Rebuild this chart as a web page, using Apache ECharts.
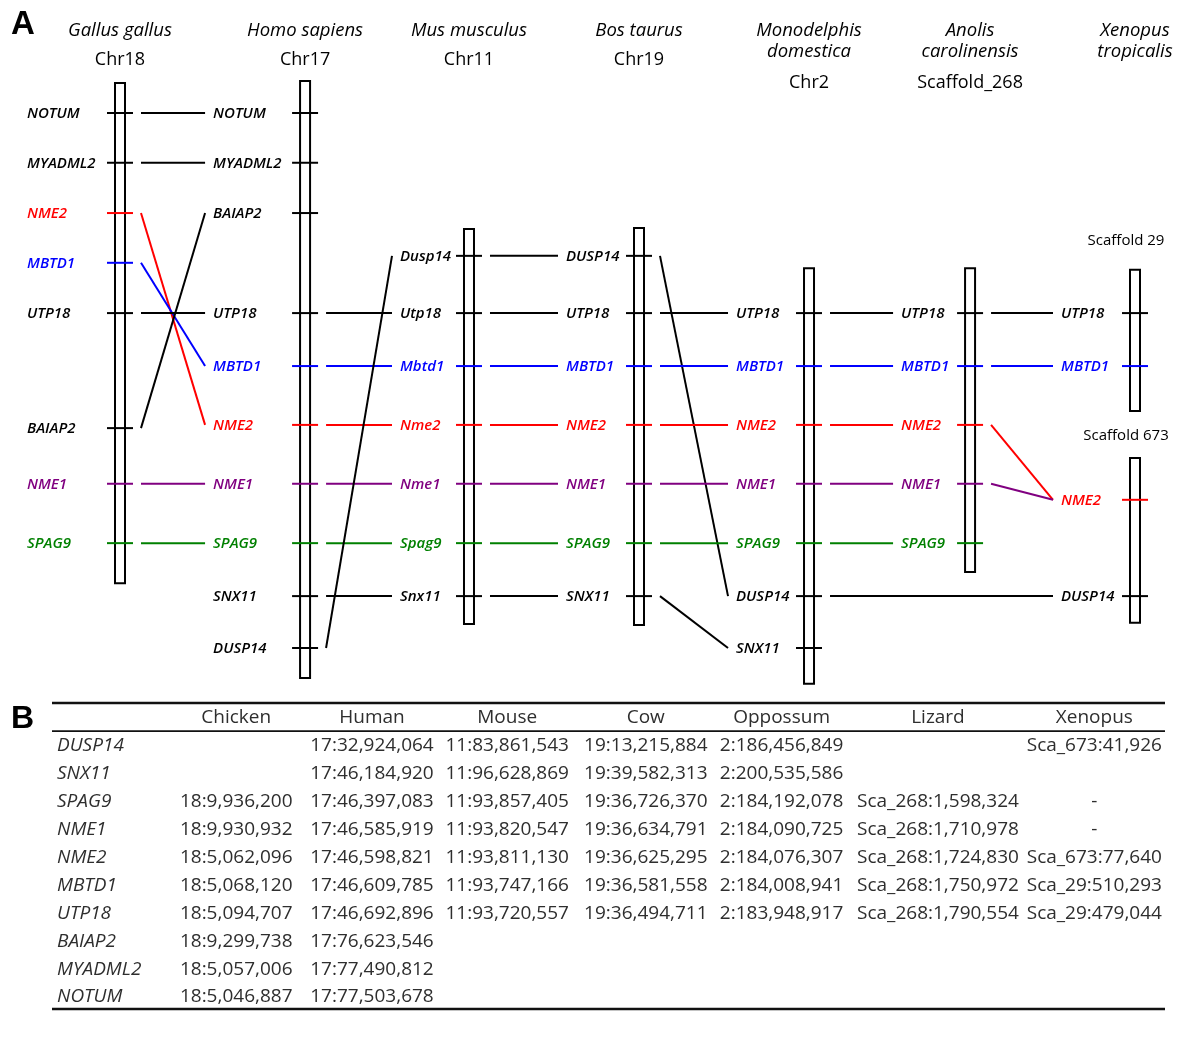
<!DOCTYPE html>
<html><head><meta charset="utf-8">
<script src="https://cdn.jsdelivr.net/npm/echarts@6/dist/echarts.min.js"></script>
<style>html,body{margin:0;padding:0;background:#fff}#c{width:1200px;height:1041px}</style>
</head><body><div id="c"></div>
<script>
// ================= DATA =================
// Panel A: species headers
const speciesNames = ['Gallus gallus', 'Homo sapiens', 'Mus musculus', 'Bos taurus', 'Monodelphis\ndomestica', 'Anolis\ncarolinensis', 'Xenopus\ntropicalis'];
const speciesChrom = ['Chr18', 'Chr17', 'Chr11', 'Chr19', 'Chr2', 'Scaffold_268', ''];

// Chromosomes / scaffolds drawn (schematic map units, 0 = top gene row)
const chromSpecies = [0, 1, 2, 3, 4, 5, 6, 6];
const chromLabel = ['', '', '', '', '', '', 'Scaffold 29', 'Scaffold 673'];
const chromLabelTrack = [null, null, null, null, null, null, 2.38, 6.04];
const chromStart = [-0.56, -0.60, 2.17, 2.15, 2.90, 2.90, 2.93, 6.45];
const chromEnd = [8.79, 10.56, 9.55, 9.57, 10.67, 8.58, 5.57, 9.53];

const chickenGenes = ['NOTUM', 'MYADML2', 'NME2', 'MBTD1', 'UTP18', 'BAIAP2', 'NME1', 'SPAG9'];
const chickenTrack = [0, 0.93, 1.87, 2.80, 3.74, 5.89, 6.93, 8.04];
const humanGenes = ['NOTUM', 'MYADML2', 'BAIAP2', 'UTP18', 'MBTD1', 'NME2', 'NME1', 'SPAG9', 'SNX11', 'DUSP14'];
const humanTrack = [0, 0.93, 1.87, 3.74, 4.73, 5.83, 6.93, 8.04, 9.03, 10.0];
const mouseGenes = ['Dusp14', 'Utp18', 'Mbtd1', 'Nme2', 'Nme1', 'Spag9', 'Snx11'];
const mouseTrack = [2.67, 3.74, 4.73, 5.83, 6.93, 8.04, 9.03];
const cowGenes = ['DUSP14', 'UTP18', 'MBTD1', 'NME2', 'NME1', 'SPAG9', 'SNX11'];
const cowTrack = [2.67, 3.74, 4.73, 5.83, 6.93, 8.04, 9.03];
const opossumGenes = ['UTP18', 'MBTD1', 'NME2', 'NME1', 'SPAG9', 'DUSP14', 'SNX11'];
const opossumTrack = [3.74, 4.73, 5.83, 6.93, 8.04, 9.03, 10.0];
const lizardGenes = ['UTP18', 'MBTD1', 'NME2', 'NME1', 'SPAG9'];
const lizardTrack = [3.74, 4.73, 5.83, 6.93, 8.04];
const xenScaf29Genes = ['UTP18', 'MBTD1'];
const xenScaf29Track = [3.74, 4.73];
const xenScaf673Genes = ['NME2', 'DUSP14'];
const xenScaf673Track = [7.23, 9.03];

// Orthology links: [fromChrom, fromGene, toChrom, toGene]
const links = [
  [0,'NOTUM',1,'NOTUM'],[0,'MYADML2',1,'MYADML2'],[0,'NME2',1,'NME2'],[0,'MBTD1',1,'MBTD1'],
  [0,'UTP18',1,'UTP18'],[0,'BAIAP2',1,'BAIAP2'],[0,'NME1',1,'NME1'],[0,'SPAG9',1,'SPAG9'],
  [1,'UTP18',2,'Utp18'],[1,'MBTD1',2,'Mbtd1'],[1,'NME2',2,'Nme2'],[1,'NME1',2,'Nme1'],
  [1,'SPAG9',2,'Spag9'],[1,'SNX11',2,'Snx11'],[1,'DUSP14',2,'Dusp14'],
  [2,'Dusp14',3,'DUSP14'],[2,'Utp18',3,'UTP18'],[2,'Mbtd1',3,'MBTD1'],[2,'Nme2',3,'NME2'],
  [2,'Nme1',3,'NME1'],[2,'Spag9',3,'SPAG9'],[2,'Snx11',3,'SNX11'],
  [3,'DUSP14',4,'DUSP14'],[3,'UTP18',4,'UTP18'],[3,'MBTD1',4,'MBTD1'],[3,'NME2',4,'NME2'],
  [3,'NME1',4,'NME1'],[3,'SPAG9',4,'SPAG9'],[3,'SNX11',4,'SNX11'],
  [4,'UTP18',5,'UTP18'],[4,'MBTD1',5,'MBTD1'],[4,'NME2',5,'NME2'],[4,'NME1',5,'NME1'],[4,'SPAG9',5,'SPAG9'],
  [4,'DUSP14',7,'DUSP14'],
  [5,'UTP18',6,'UTP18'],[5,'MBTD1',6,'MBTD1'],[5,'NME2',7,'NME2'],[5,'NME1',7,'NME2']
];

// Panel B: table
const tableHeaders = ['Chicken', 'Human', 'Mouse', 'Cow', 'Oppossum', 'Lizard', 'Xenopus'];
const tableGenes = ['DUSP14', 'SNX11', 'SPAG9', 'NME1', 'NME2', 'MBTD1', 'UTP18', 'BAIAP2', 'MYADML2', 'NOTUM'];
const chickenPos = ['', '', '18:9,936,200', '18:9,930,932', '18:5,062,096', '18:5,068,120', '18:5,094,707', '18:9,299,738', '18:5,057,006', '18:5,046,887'];
const humanPos = ['17:32,924,064', '17:46,184,920', '17:46,397,083', '17:46,585,919', '17:46,598,821', '17:46,609,785', '17:46,692,896', '17:76,623,546', '17:77,490,812', '17:77,503,678'];
const mousePos = ['11:83,861,543', '11:96,628,869', '11:93,857,405', '11:93,820,547', '11:93,811,130', '11:93,747,166', '11:93,720,557', '', '', ''];
const cowPos = ['19:13,215,884', '19:39,582,313', '19:36,726,370', '19:36,634,791', '19:36,625,295', '19:36,581,558', '19:36,494,711', '', '', ''];
const opossumPos = ['2:186,456,849', '2:200,535,586', '2:184,192,078', '2:184,090,725', '2:184,076,307', '2:184,008,941', '2:183,948,917', '', '', ''];
const lizardPos = ['', '', 'Sca_268:1,598,324', 'Sca_268:1,710,978', 'Sca_268:1,724,830', 'Sca_268:1,750,972', 'Sca_268:1,790,554', '', '', ''];
const xenopusPos = ['Sca_673:41,926', '', '-', '-', 'Sca_673:77,640', 'Sca_29:510,293', 'Sca_29:479,044', '', '', ''];

// ================= LAYOUT / STYLE =================
const COL_X = [0, 1.094, 2.063, 3.068, 4.073, 5.025, 6];         // species column positions (axis units)
const LABEL_DX = [-93, -92, -69, -73, -73, -69, -74, -74];        // gene label left offset per chromosome (px)
const TABLE_COL_X = [0.1655, 0.2875, 0.409, 0.5335, 0.6555, 0.796, 0.9365]; // table column centres (fraction)
const TABLE_NAME_X = 0.0045;
const TABLE_RULES = [-0.54, 0.47, 10.43];
const TABLE_RULE_W = [2.5, 1.8, 2.5];
const FONT = '"Open Sans", "DejaVu Sans", sans-serif';
const GENE_COLORS = { NME2: '#ff0000', MBTD1: '#0000ff', NME1: '#800080', SPAG9: '#008000' };
function geneColor(g) { return GENE_COLORS[g.toUpperCase()] || '#000000'; }

const chromGenes = [chickenGenes, humanGenes, mouseGenes, cowGenes, opossumGenes, lizardGenes, xenScaf29Genes, xenScaf673Genes];
const chromTracks = [chickenTrack, humanTrack, mouseTrack, cowTrack, opossumTrack, lizardTrack, xenScaf29Track, xenScaf673Track];
function chromX(i) { return COL_X[chromSpecies[i]]; }
function geneTrack(ci, g) { return chromTracks[ci][chromGenes[ci].indexOf(g)]; }

// ================= RENDERERS =================
function renderHeader(params, api) {
  const i = params.dataIndex;
  const x = api.coord([COL_X[i], 0])[0];
  const lines = speciesNames[i].split('\n');
  const ch = [];
  lines.forEach((t, k) => ch.push({ type: 'text', style: { text: t, x: x, y: 31 + k * 21, align: 'center', verticalAlign: 'middle', fill: '#000', font: 'italic 500 18.5px ' + FONT } }));
  if (speciesChrom[i]) ch.push({ type: 'text', style: { text: speciesChrom[i], x: x, y: lines.length > 1 ? 83 : 60, align: 'center', verticalAlign: 'middle', fill: '#000', font: '500 18px ' + FONT } });
  return { type: 'group', children: ch };
}

function renderChrom(params, api) {
  const i = params.dataIndex;
  const top = api.coord([chromX(i), chromStart[i]]);
  const bot = api.coord([chromX(i), chromEnd[i]]);
  const cx = top[0];
  const ch = [{ type: 'rect', shape: { x: cx - 5, y: top[1], width: 10, height: bot[1] - top[1] }, style: { fill: '#fff', stroke: '#000', lineWidth: 2 } }];
  chromGenes[i].forEach((g, k) => {
    const y = api.coord([chromX(i), chromTracks[i][k]])[1];
    const col = geneColor(g);
    ch.push({ type: 'line', shape: { x1: cx - 13, y1: y, x2: cx + 13, y2: y }, style: { stroke: col, lineWidth: 2 } });
    ch.push({ type: 'text', style: { text: g, x: cx + LABEL_DX[i], y: y + 1, align: 'left', verticalAlign: 'middle', fill: col, font: 'italic 600 15px ' + FONT } });
  });
  if (chromLabel[i]) {
    const p = api.coord([chromX(i), chromLabelTrack[i]]);
    ch.push({ type: 'text', style: { text: chromLabel[i], x: p[0] - 9, y: p[1], align: 'center', verticalAlign: 'middle', fill: '#000', font: '500 15px ' + FONT } });
  }
  return { type: 'group', children: ch };
}

function renderLink(params, api) {
  const [a, ga, b, gb] = links[params.dataIndex];
  const p1 = api.coord([chromX(a), geneTrack(a, ga)]);
  const p2 = api.coord([chromX(b), geneTrack(b, gb)]);
  return { type: 'line', shape: { x1: p1[0] + 21, y1: p1[1], x2: p2[0] + LABEL_DX[b] - 8, y2: p2[1] }, style: { stroke: geneColor(ga), lineWidth: 2 } };
}

// table cells
const tableCols = [chickenPos, humanPos, mousePos, cowPos, opossumPos, lizardPos, xenopusPos];
const cells = [];
tableHeaders.forEach((h, c) => cells.push({ x: TABLE_COL_X[c], row: 0, text: h, align: 'center', italic: false }));
tableGenes.forEach((g, r) => {
  cells.push({ x: TABLE_NAME_X, row: r + 1, text: g, align: 'left', italic: true });
  tableCols.forEach((col, c) => { if (col[r]) cells.push({ x: TABLE_COL_X[c], row: r + 1, text: col[r], align: 'center', italic: false }); });
});
function renderCell(params, api) {
  const c = cells[params.dataIndex];
  const p = api.coord([c.x, c.row]);
  return { type: 'text', style: { text: c.text, x: p[0], y: p[1], align: c.align, verticalAlign: 'middle', fill: '#2e2e2e', font: (c.italic ? 'italic ' : '') + '19px ' + FONT } };
}
function renderRule(params, api) {
  const r = TABLE_RULES[params.dataIndex];
  const p1 = api.coord([0, r]);
  const p2 = api.coord([1, r]);
  return { type: 'line', shape: { x1: p1[0], y1: p1[1], x2: p2[0], y2: p2[1] }, style: { stroke: '#111', lineWidth: TABLE_RULE_W[params.dataIndex] } };
}

const chart = echarts.init(document.getElementById('c'), null, { renderer: 'canvas' });
chart.setOption({
  animation: false,
  backgroundColor: '#fff',
  grid: [
    { left: 120, width: 1015, top: 59.5, height: 642 },
    { left: 52, width: 1113, top: 718, height: 279 }
  ],
  xAxis: [
    { type: 'value', gridIndex: 0, min: 0, max: 6, show: false },
    { type: 'value', gridIndex: 1, min: 0, max: 1, show: false }
  ],
  yAxis: [
    { type: 'value', gridIndex: 0, min: -1, max: 11, inverse: true, show: false },
    { type: 'value', gridIndex: 1, min: 0, max: 10, inverse: true, show: false }
  ],
  graphic: [
    { type: 'text', left: 11, top: 8, style: { text: 'A', fill: '#000', font: 'bold 33px "Liberation Sans", Arial, sans-serif' } },
    { type: 'text', left: 11, top: 703, style: { text: 'B', fill: '#000', font: 'bold 32px "Liberation Sans", Arial, sans-serif' } }
  ],
  series: [
    { type: 'custom', xAxisIndex: 0, yAxisIndex: 0, clip: false, renderItem: renderLink, data: links.map((l) => [chromX(l[0]), geneTrack(l[0], l[1])]) },
    { type: 'custom', xAxisIndex: 0, yAxisIndex: 0, clip: false, renderItem: renderChrom, data: chromStart.map((s, i) => [chromX(i), s]) },
    { type: 'custom', xAxisIndex: 0, yAxisIndex: 0, clip: false, renderItem: renderHeader, data: speciesNames.map((s, i) => [COL_X[i], 0]) },
    { type: 'custom', xAxisIndex: 1, yAxisIndex: 1, clip: false, renderItem: renderRule, data: TABLE_RULES.map((r) => [0, r]) },
    { type: 'custom', xAxisIndex: 1, yAxisIndex: 1, clip: false, renderItem: renderCell, data: cells.map((c) => [c.x, c.row]) }
  ]
});
</script></body></html>
